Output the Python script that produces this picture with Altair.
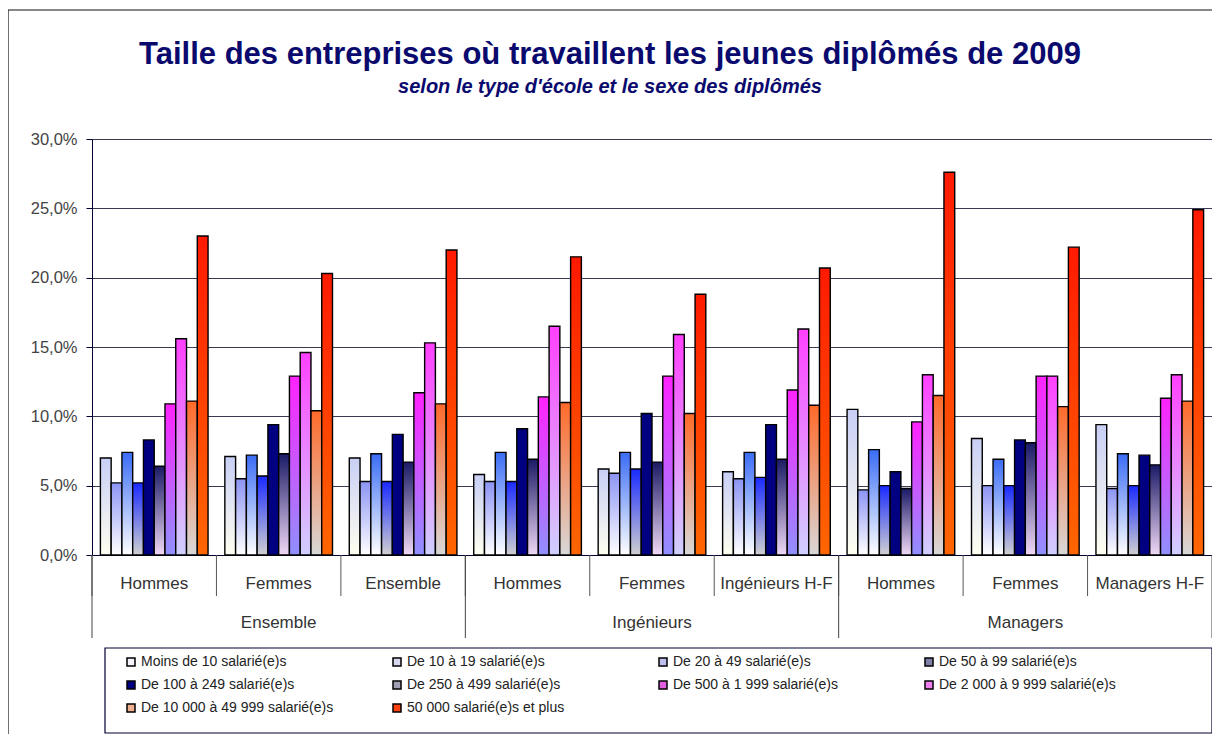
import altair as alt
import pandas as pd

# ---------------- data ----------------
title_text = "Taille des entreprises où travaillent les jeunes diplômés de 2009"
subtitle_text = "selon le type d'école et le sexe des diplômés"
schools = ["Ensemble", "Ingénieurs", "Managers"]
sub_groups = [
    ["Hommes", "Femmes", "Ensemble"],
    ["Hommes", "Femmes", "Ingénieurs H-F"],
    ["Hommes", "Femmes", "Managers H-F"],
]
sizes = [
    "Moins de 10 salarié(e)s",
    "De 10 à 19 salarié(e)s",
    "De 20 à 49 salarié(e)s",
    "De 50 à 99 salarié(e)s",
    "De 100 à 249 salarié(e)s",
    "De 250 à 499 salarié(e)s",
    "De 500 à 1 999 salarié(e)s",
    "De 2 000 à 9 999 salarié(e)s",
    "De 10 000 à 49 999 salarié(e)s",
    "50 000 salarié(e)s  et plus",
]
# percentages per group, in the order of `sizes`
ens_hommes = [7.0, 5.2, 7.4, 5.2, 8.3, 6.4, 10.9, 15.6, 11.1, 23.0]
ens_femmes = [7.1, 5.5, 7.2, 5.7, 9.4, 7.3, 12.9, 14.6, 10.4, 20.3]
ens_ensemble = [7.0, 5.3, 7.3, 5.3, 8.7, 6.7, 11.7, 15.3, 10.9, 22.0]
ing_hommes = [5.8, 5.3, 7.4, 5.3, 9.1, 6.9, 11.4, 16.5, 11.0, 21.5]
ing_femmes = [6.2, 5.9, 7.4, 6.2, 10.2, 6.7, 12.9, 15.9, 10.2, 18.8]
ing_hf = [6.0, 5.5, 7.4, 5.6, 9.4, 6.9, 11.9, 16.3, 10.8, 20.7]
man_hommes = [10.5, 4.7, 7.6, 5.0, 6.0, 4.8, 9.6, 13.0, 11.5, 27.6]
man_femmes = [8.4, 5.0, 6.9, 5.0, 8.3, 8.1, 12.9, 12.9, 10.7, 22.2]
man_hf = [9.4, 4.8, 7.3, 5.0, 7.2, 6.5, 11.3, 13.0, 11.1, 24.9]

values_by_group = [
    [ens_hommes, ens_femmes, ens_ensemble],
    [ing_hommes, ing_femmes, ing_hf],
    [man_hommes, man_femmes, man_hf],
]

# gradient (top, bottom) per size class and legend swatch colour
grad_top = ["#c8cff5", "#8c94f4", "#3a6cf5", "#1a2aff", "#000080",
            "#1a1a66", "#ff22ff", "#ff40ff", "#ff6a2a", "#ff1a00"]
grad_bot = ["#fffff0", "#ffffff", "#ffffff", "#d0d0d0", "#000080",
            "#f0d8f5", "#9090ff", "#d0d0ff", "#d8d8d8", "#ff6600"]
legend_cols = ["#f4f4fc", "#d8d8f0", "#c0c0f0", "#8080a8", "#000080",
               "#a0a0b4", "#e060e0", "#f080f0", "#f0b090", "#ff4010"]

# ---------------- table ----------------
group_keys = []
rows = []
for s, subs, vals in zip(schools, sub_groups, values_by_group):
    for sub, v in zip(subs, vals):
        key = f"{s}|{sub}"
        group_keys.append(key)
        for size, val in zip(sizes, v):
            rows.append({"grp": key, "school": s, "sub": sub, "size": size, "value": val / 100})
df = pd.DataFrame(rows)

W, H = 1120, 416
FONT = "Liberation Sans"
NAVY = "#0a0a6e"

xaxis = alt.Axis(title=None, labelExpr="split(datum.label, '|')[1]", labelAngle=0,
                 ticks=False, tickSize=0, domainColor="#000033", labelFontSize=17,
                 labelColor="#333333", labelPadding=20, grid=False, labelFont=FONT)
xscale = alt.Scale(domain=group_keys, paddingInner=0, paddingOuter=0)
X = alt.X("grp:N", scale=xscale, axis=xaxis)
XO = alt.XOffset("size:N", scale=alt.Scale(domain=sizes, paddingInner=0, paddingOuter=0.78))
Y = alt.Y("value:Q", scale=alt.Scale(domain=[0, 0.30], nice=False),
          axis=alt.Axis(title=None, values=[0, 0.05, 0.10, 0.15, 0.20, 0.25, 0.30],
                        labelExpr="replace(format(datum.value, '.1%'), '.', ',')",
                        grid=True, gridColor="#3a3a55", tickSize=6, tickColor="#000033",
                        domainColor="#000033", labelFontSize=16.5, labelColor="#444444",
                        labelPadding=9, labelFont=FONT))

one = alt.Data(values=[{"a": 1}])

# outer chart frame: only its left and top edges fall inside the picture
frame_left = alt.Chart(one).mark_rule(color="#111111", strokeWidth=1.2).encode(
    x=alt.value(-84), y=alt.value(-129), y2=alt.value(700))
frame_top = alt.Chart(one).mark_rule(color="#111111", strokeWidth=1.2).encode(
    x=alt.value(-84), x2=alt.value(1130), y=alt.value(-129))

title_mark = alt.Chart(one).mark_text(
    text=title_text, font=FONT, fontSize=31, fontWeight="bold", color=NAVY,
    align="center", baseline="middle").encode(x=alt.value(518), y=alt.value(-84))
subtitle_mark = alt.Chart(one).mark_text(
    text=subtitle_text, font=FONT, fontSize=20, fontWeight="bold", fontStyle="italic",
    color=NAVY, align="center", baseline="middle").encode(x=alt.value(518), y=alt.value(-52))

bars = []
for i, size in enumerate(sizes):
    grad = alt.LinearGradient(
        gradient="linear", x1=0, x2=0, y1=0, y2=1,
        stops=[alt.GradientStop(color=grad_top[i], offset=0),
               alt.GradientStop(color=grad_bot[i], offset=1)])
    bars.append(
        alt.Chart(df).transform_filter(alt.datum.size == size)
        .mark_bar(color=grad, stroke="black", strokeWidth=1.4)
        .encode(x=X, xOffset=XO, y=Y)
    )

legend_layer = alt.Chart(df).transform_filter("datum.value < 0").mark_square().encode(
    x=X, xOffset=XO, y=Y,
    color=alt.Color("size:N", scale=alt.Scale(domain=sizes, range=legend_cols),
                    legend=alt.Legend(title=None, orient="none", direction="horizontal",
                                      legendX=32, legendY=516,
                                      columns=4, gridAlign="all", columnPadding=56,
                                      rowPadding=9, padding=0, symbolType="square",
                                      symbolSize=64, symbolStrokeColor="black",
                                      symbolStrokeWidth=1.5, symbolOpacity=1,
                                      labelFontSize=14, labelColor="#222222",
                                      labelFont=FONT, labelOffset=3, labelLimit=400)))

legend_box = alt.Chart(one).mark_rect(fill="white", stroke="#000033", strokeWidth=1.2).encode(
    x=alt.value(13), x2=alt.value(1120), y=alt.value(509), y2=alt.value(594))

grp_df = pd.DataFrame({"grp": group_keys})
grp_rules = alt.Chart(grp_df).mark_rule(color="#555555", strokeWidth=1).encode(
    x=alt.X("grp:N", scale=xscale, axis=xaxis, bandPosition=0),
    y=alt.value(H), y2=alt.value(H + 41))

school_starts = pd.DataFrame({"grp": [f"{s}|{subs[0]}" for s, subs in zip(schools, sub_groups)]})
school_rules = alt.Chart(school_starts).mark_rule(color="#444444", strokeWidth=1).encode(
    x=alt.X("grp:N", scale=xscale, axis=xaxis, bandPosition=0),
    y=alt.value(H), y2=alt.value(H + 83))
end_rule = alt.Chart(pd.DataFrame({"grp": [group_keys[-1]]})).mark_rule(
    color="#444444", strokeWidth=1).encode(
    x=alt.X("grp:N", scale=xscale, axis=xaxis, bandPosition=1),
    y=alt.value(H), y2=alt.value(H + 83))

school_mid = pd.DataFrame({"grp": [f"{s}|{subs[1]}" for s, subs in zip(schools, sub_groups)],
                           "school": schools})
school_labels = alt.Chart(school_mid).mark_text(
    font=FONT, fontSize=17, color="#333333", baseline="middle", align="center").encode(
    x=alt.X("grp:N", scale=xscale, axis=xaxis), y=alt.value(H + 68), text="school:N")

chart = alt.layer(
    frame_left, frame_top, title_mark, subtitle_mark, legend_box, *bars, legend_layer,
    grp_rules, school_rules, end_rule, school_labels
).properties(
    width=W, height=H,
    autosize=alt.AutoSizeParams(type="none"),
    padding={"left": 84, "top": 131, "right": 0, "bottom": 179},
    background="white",
).configure_view(stroke="#666666", strokeWidth=1)

chart.save("out.html", embed_options={"renderer": "svg", "actions": False})
